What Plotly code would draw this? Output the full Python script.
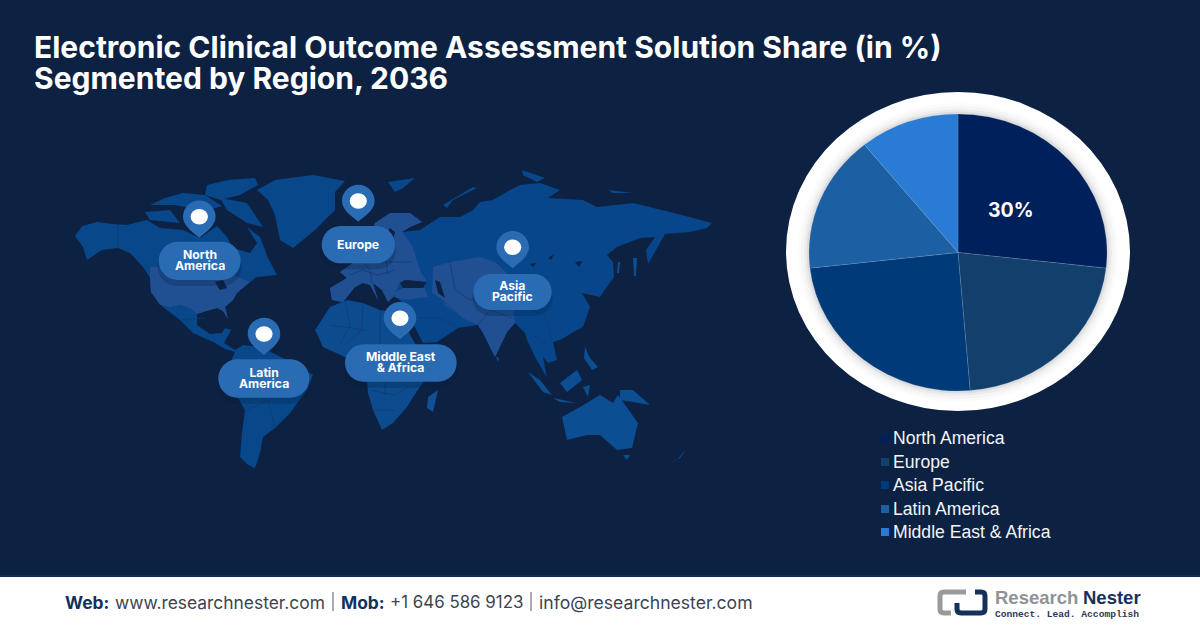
import plotly.graph_objects as go

W, H = 1200, 628

# ---- chart data ----
regions = ["North America", "Europe", "Asia Pacific", "Latin America", "Middle East & Africa"]
shares = [26.8, 21.9, 24.5, 16.0, 10.8]
slice_labels = ["30%", "", "", "", ""]
colors = ["#00205b", "#133f6d", "#003a79", "#1d5fa3", "#2a7bd4"]
title_lines = ["Electronic Clinical Outcome Assessment Solution Share (in %)", "Segmented by Region, 2036"]

BG = "#0d2143"
LAND = "#08478a"
INDIGO = "#204f92"
PILL = "#2a6cb3"
FONT = "Inter"


def px(x):
    return round(x / W, 5)


def py(y):
    return round(1 - y / H, 5)


def P(x, y):
    return f"{px(x)},{py(y)}"


shapes = []
annotations = []


def path_shape(d, fill=None, line=None, lw=0, opacity=1.0):
    s = dict(type="path", xref="paper", yref="paper", path=d, layer="below", opacity=opacity,
             line=dict(width=lw, color=line or "rgba(0,0,0,0)"))
    if fill:
        s["fillcolor"] = fill
    shapes.append(s)


def poly(points, fill):
    d = "M" + " L".join(P(*p) for p in points) + " Z"
    path_shape(d, fill=fill)


def polyline(points, color="#123a70", lw=0.7):
    d = "M" + " L".join(P(*p) for p in points)
    path_shape(d, line=color, lw=lw)


def ellipse(cx, cy, rx, ry, fill):
    shapes.append(dict(type="circle", xref="paper", yref="paper", layer="below",
                       x0=px(cx - rx), x1=px(cx + rx), y0=py(cy + ry), y1=py(cy - ry),
                       fillcolor=fill, line=dict(width=0)))


def rect(x0, y0, x1, y1, fill):
    shapes.append(dict(type="rect", xref="paper", yref="paper", layer="below",
                       x0=px(x0), x1=px(x1), y0=py(y1), y1=py(y0),
                       fillcolor=fill, line=dict(width=0)))


def text(x, y, s, size, color="#ffffff", family=FONT, bold=False, anchor="left"):
    # left-anchored annotations sit 1 px right of x (border width), so compensate
    xx = x - 1 if anchor == "left" else x
    annotations.append(dict(x=px(xx), y=py(y), xref="paper", yref="paper", text=f"<b>{s}</b>" if bold else s,
                            showarrow=False, xanchor=anchor, yanchor="middle", align=anchor,
                            font=dict(size=size, color=color, family=family), borderpad=0))


def pill(x0, y0, x1, y1, fill=PILL, opacity=1.0):
    r = (y1 - y0) / 2
    k = 0.5523 * r
    d = (f"M{P(x0 + r, y0)} L{P(x1 - r, y0)} "
         f"C{P(x1 - r + k, y0)} {P(x1, y0 + r - k)} {P(x1, y0 + r)} "
         f"C{P(x1, y0 + r + k)} {P(x1 - r + k, y1)} {P(x1 - r, y1)} "
         f"L{P(x0 + r, y1)} "
         f"C{P(x0 + r - k, y1)} {P(x0, y0 + r + k)} {P(x0, y0 + r)} "
         f"C{P(x0, y0 + r - k)} {P(x0 + r - k, y0)} {P(x0 + r, y0)} Z")
    path_shape(d, fill=fill, opacity=opacity)


def pin(cx, cy, tip, r=16.3):
    k = 0.5523 * r
    d = (f"M{P(cx, tip)} "
         f"C{P(cx - 3, tip - 3)} {P(cx - r, cy + r * 0.62)} {P(cx - r, cy)} "
         f"C{P(cx - r, cy - k)} {P(cx - k, cy - r)} {P(cx, cy - r)} "
         f"C{P(cx + k, cy - r)} {P(cx + r, cy - k)} {P(cx + r, cy)} "
         f"C{P(cx + r, cy + r * 0.62)} {P(cx + 3, tip - 3)} {P(cx, tip)} Z")
    path_shape(d, fill=PILL)
    ellipse(cx, cy, 8.6, 7.8, "#ffffff")


# ---- decorative world map (traced outlines) ----
north_south_america = [(75,236),(82,226),(97,222),(112,224),(127,225),(147,220),(160,228),(183,230),(200,238),(217,226),
    (227,237),(233,248),(250,253),(257,243),(247,227),(260,237),(268,258),(277,275),(257,277),(250,282),(237,293),(233,300),
    (225,307),(228,319),(223,311),(217,308),(203,312),(197,314),(197,325),(210,334),(222,333),(225,328),(231,330),(224,343),
    (235,350),(243,345),(260,347),(277,355),(296,365),(313,375),(307,390),(290,413),(275,428),(263,437),(260,453),(255,468),
    (248,465),(240,457),(242,433),(245,410),(235,393),(227,380),(230,363),(235,352),(225,349),(213,342),(193,333),(180,320),
    (163,307),(151,292),(150,278),(143,267),(130,253),(118,248),(102,250),(87,260),(83,247)]
usa = [(150,267),(218,267),(225,273),(240,278),(250,282),(237,293),(233,300),(225,307),(228,319),(223,311),(217,308),(203,312),
    (197,314),(190,308),(180,305),(170,307),(160,305),(151,292),(150,278)]
arctic = [
    [(207,185),(228,180),(255,178),(258,185),(240,195),(220,200),(205,195)],
    [(150,205),(165,198),(183,193),(205,195),(222,206),(205,211),(175,205)],
    [(145,212),(170,210),(180,223),(150,220)],
    [(220,198),(247,203),(263,227),(247,223),(227,210)],
    [(257,190),(275,180),(313,175),(345,181),(335,192),(335,210),(315,230),(293,248),(280,240),(275,215),(268,200)],
    [(388,182),(415,178),(403,188),(395,192)],
    [(443,205),(473,187),(477,188),(453,200),(447,208)],
    [(522,170),(545,178),(537,182),(523,175)],
    [(608,190),(633,193),(613,193)],
]
eurasia = [(330,288),(347,278),(340,272),(350,265),(360,258),(372,250),(378,240),(372,232),(375,223),(390,213),(410,213),(422,222),
    (410,227),(402,232),(420,230),(440,217),(460,217),(473,210),(480,202),(493,200),(510,190),(520,185),(540,183),(560,190),
    (548,198),(583,200),(597,207),(633,203),(670,212),(693,218),(712,223),(707,228),(690,232),(665,234),(660,243),(648,264),
    (646,250),(655,237),(640,238),(617,247),(607,255),(613,262),(614,277),(600,297),(582,293),(590,307),(583,327),(577,330),
    (560,340),(553,342),(557,360),(548,363),(543,357),(547,378),(535,357),(527,340),(525,333),(515,323),(507,332),(495,357),
    (483,333),(478,325),(458,328),(437,342),(423,343),(410,318),(405,305),(397,298),(393,297),(388,302),(382,290),(373,283),
    (378,300),(370,285),(363,283),(355,287),(343,302),(332,300)]
europe_land = [(330,288),(347,278),(340,272),(350,265),(360,258),(372,250),(378,240),(372,232),(375,223),(390,213),(410,213),(422,222),
    (410,227),(402,232),(412,245),(420,270),(427,282),(405,280),(400,283),(393,297),(388,302),(382,290),(373,283),(378,300),(370,285),
    (363,283),(355,287),(343,302),(332,300)]
south_asia = [(433,267),(450,262),(480,257),(495,262),(507,273),(512,300),(515,323),(507,332),(495,357),(483,333),(478,325),(462,318),
    (445,305),(440,298),(432,293)]
turkey = [(393,293),(403,288),(425,288),(428,297),(405,300),(397,298)]
africa = [(315,330),(330,307),(347,300),(363,303),(380,310),(393,312),(403,322),(412,338),(420,352),(440,358),(432,370),(420,387),(413,397),
    (407,407),(393,423),(382,430),(373,410),(368,393),(367,380),(345,357),(323,347)]
madagascar = [(428,397),(438,390),(433,412),(427,408)]
australia = [(562,417),(580,407),(600,395),(613,403),(618,395),(638,423),(632,448),(617,450),(600,435),(587,435),(567,440)]
islands = [
    [(623,455),(630,455),(627,460)],
    [(687,448),(677,460),(667,465),(680,458)],
    [(620,390),(633,390),(650,405),(633,402),(620,400)],
    [(528,372),(540,380),(552,395),(543,392)],
    [(553,398),(577,403),(560,402)],
    [(560,383),(577,370),(582,380),(567,392)],
    [(585,347),(590,358),(598,367),(592,370),(584,358)],
    [(583,387),(590,385),(588,397)],
    [(618,262),(620,262),(619,273),(617,273)],
    [(633,258),(637,258),(636,276),(634,276)],
    [(496,357),(499,358),(498,362)],
]
seas = [
    [(400,283),(405,280),(427,282),(423,288),(403,288)],
    [(435,280),(440,282),(445,298),(438,293)],
    [(390,228),(395,232),(393,240),(387,235)],
    [(215,282),(223,280),(227,288),(220,290)],
    [(530,264),(536,263),(533,267)],
    [(575,262),(582,261),(579,267)],
    [(548,258),(554,254),(551,260)],
]
borders = [
    [(118,225),(118,248)],
    [(345,300),(350,325),(340,345)], [(363,303),(362,330),(345,345)], [(380,310),(380,345),(362,345)],
    [(330,325),(365,330)], [(380,345),(410,345)], [(370,390),(395,395),(412,385)], [(372,410),(395,410)], [(385,360),(385,395)],
    [(350,275),(362,270),(378,275),(395,270)], [(360,258),(370,270),(372,283)], [(385,250),(388,275)], [(378,262),(412,262)],
    [(450,262),(455,290),(470,300)], [(470,300),(490,295),(510,300)], [(478,325),(490,310),(512,318)], [(440,298),(462,318)],
    [(520,305),(545,315),(552,340)], [(533,335),(548,345)], [(410,318),(440,318),(458,328)],
    [(235,393),(262,385),(285,392)], [(247,410),(268,400),(275,428)], [(262,385),(262,360)],
    [(180,320),(205,318)],
]

poly(north_south_america, LAND)
poly(usa, INDIGO)
for p in arctic:
    poly(p, LAND)
poly(eurasia, "#07468a")
poly(europe_land, INDIGO)
poly(south_asia, INDIGO)
poly(turkey, INDIGO)
poly(africa, "#0c4b8e")
poly(madagascar, "#0f5096")
poly(australia, "#0c4e92")
for p in islands:
    poly(p, "#0c4e92")
for p in seas:
    poly(p, BG)
for b in borders:
    polyline(b)

# ---- location markers ----
markers = [
    (["North", "America"], (158.7, 241.7, 240.7, 280), (199.3, 216.7), 237.7),
    (["Europe"], (321.7, 226, 395, 263.3), (358.3, 201), 221.7),
    (["Asia", "Pacific"], (473.3, 274, 551.7, 310), (512.7, 247.3), 268.3),
    (["Latin", "America"], (218.3, 359.3, 309.3, 397.7), (264, 334), 355),
    (["Middle East", "& Africa"], (345, 344.3, 456.7, 381.7), (400, 318.3), 339.3),
]
for lines, box, c, tip in markers:
    pill(box[0] - 1, box[1] + 5, box[2] + 1, box[3] + 6, fill="#061a38", opacity=0.22)
    pill(*box)
    pin(c[0], c[1], tip)
    mid = (box[0] + box[2]) / 2
    cy = (box[1] + box[3]) / 2
    if len(lines) == 1:
        text(mid, cy, lines[0], 12.2, bold=True, anchor="center")
    else:
        # two-line label: line spacing is tightened in the page script below, which lifts the block
        text(mid, cy + 1.5, "<br>".join(f"<b>{t}</b>" for t in lines), 12.2, anchor="center")

# ---- white ring behind the pie, with a soft inner shadow ----
CX, CY = 958, 251.5
ellipse(CX, CY, 172, 159.5, "#ffffff")
for grow, col in [(11, "#fbfbfb"), (8, "#f5f5f5"), (5, "#ececec"), (2.5, "#dedede")]:
    ellipse(CX, CY + 1, 149 + grow, 138.5 + grow, col)

# ---- title ----
text(34, 47, title_lines[0], 30, bold=True)
text(34, 78, title_lines[1], 30, bold=True)

# ---- slice label ----
text(1011, 210, slice_labels[0], 19.5, bold=True, anchor="center")

# ---- legend ----
legend_y = [438, 462, 485, 509, 532]
for name, col, y in zip(regions, colors, legend_y):
    rect(881, y - 4, 889, y + 4, col)
    text(893, y, name, 17.6, color="#f2f5f9", family="Liberation Sans")

# ---- footer ----
rect(0, 577, W, H, "#ffffff")
rect(0, 575, W, 577, "#0f2a55")
NAVY = "#15305c"
GREY = "#3c4452"
text(65, 602, "Web:", 17.4, color=NAVY, bold=True)
text(115, 602, "www.researchnester.com", 17.4, color=GREY)
rect(332.5, 592, 333.5, 611, "#555c66")
text(341, 602, "Mob:", 17.4, color=NAVY, bold=True)
text(390, 602, "+1 646 586 9123", 16.9, color=GREY)
rect(530.5, 592, 531.5, 611, "#555c66")
text(539, 602, "info@researchnester.com", 17.6, color=GREY)

# ---- logo ----
path_shape(f"M{P(966,592)} L{P(944,592)} Q{P(940,592)} {P(940,596)} L{P(940,609)} Q{P(940,613)} {P(944,613)} L{P(951,613)}",
           line="#9a9a9a", lw=5)
path_shape(f"M{P(975,592)} L{P(981,592)} Q{P(985,592)} {P(985,596)} L{P(985,609)} Q{P(985,613)} {P(981,613)} L{P(961,613)} "
           f"Q{P(957,613)} {P(957,609)} L{P(957,603)}", line="#15305c", lw=5)
text(995, 597.5, "Research", 18.5, color="#8f9296", family="Liberation Sans", bold=True)
text(1083, 597.5, "Nester", 18.5, color="#15305c", family="Liberation Sans", bold=True)
text(995, 614, "Connect. Lead. Accomplish", 9.6, color="#2a3b57", family="Liberation Mono", bold=True)

fig = go.Figure(go.Pie(
    labels=regions, values=shares, textinfo="none", sort=False, direction="clockwise", rotation=0,
    marker=dict(colors=colors, line=dict(color="rgba(150,180,215,0.35)", width=0.6)),
    showlegend=False, hoverinfo="label+percent",
    domain=dict(x=[809 / W, 1107 / W], y=[1 - 391 / H, 1 - 114 / H]),
))
fig.update_layout(
    width=W, height=H, margin=dict(l=0, r=0, t=0, b=0), paper_bgcolor=BG, plot_bgcolor=BG,
    shapes=shapes, annotations=annotations, showlegend=False,
)

# Remove the page margin, stretch the pie (the reference pie is wider than tall),
# and tighten the line spacing of the two-line marker labels.
post = """
document.documentElement.style.margin = '0';
document.body.style.margin = '0';
document.body.style.background = '#0d2143';
var g = document.querySelector('.pielayer');
if (g) { g.setAttribute('transform', 'translate(958,0) scale(1.076,1) translate(-958,0)'); }
document.querySelectorAll('.annotation-text tspan.line').forEach(function (t) {
    var dy = t.getAttribute('dy');
    if (dy && parseFloat(dy) > 0) { t.setAttribute('dy', '0.9em'); }
});
"""
fig.write_html("out.html", post_script=post, config=dict(displayModeBar=False))
